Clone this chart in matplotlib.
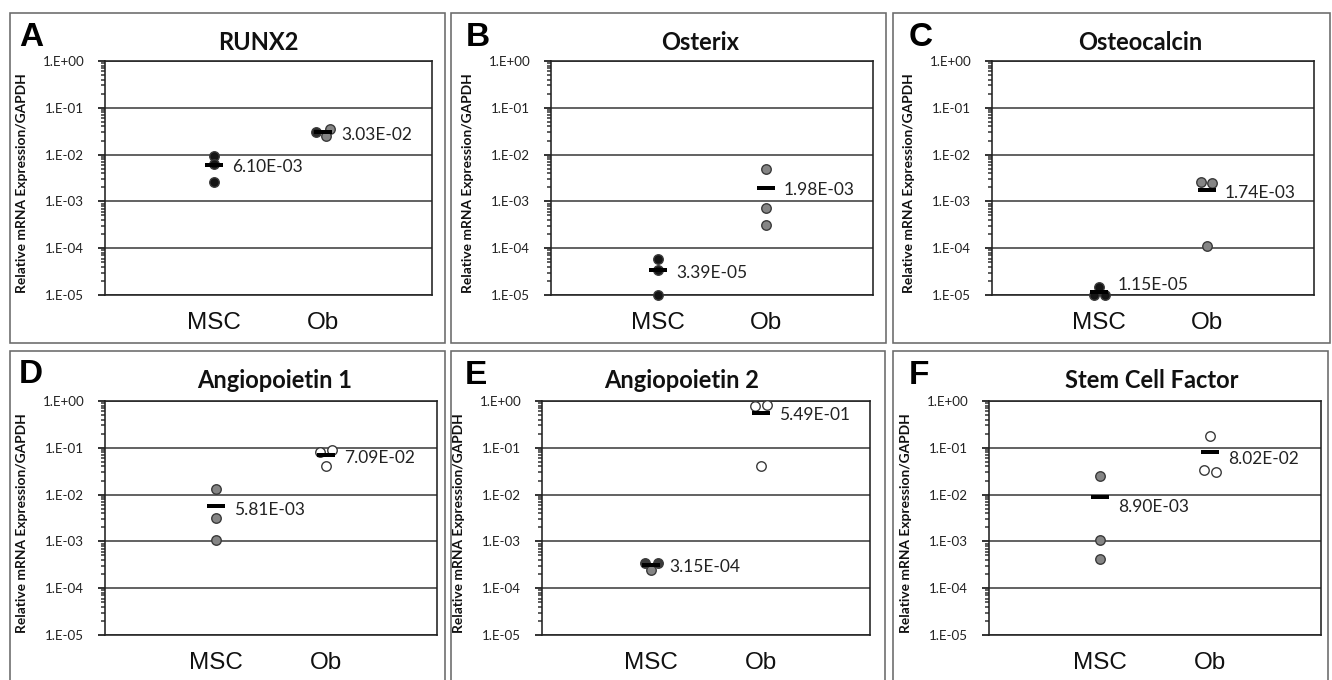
import matplotlib
matplotlib.use('Agg')
import matplotlib.pyplot as plt
from matplotlib.patches import Rectangle
from matplotlib.ticker import FixedLocator, LogLocator, NullFormatter

# ---------------- data ----------------
letters = ['A', 'B', 'C', 'D', 'E', 'F']
titles = ['RUNX2', 'Osterix', 'Osteocalcin', 'Angiopoietin 1', 'Angiopoietin 2', 'Stem Cell Factor']
categories = ['MSC', 'Ob']
ytick_vals = [1e-5, 1e-4, 1e-3, 1e-2, 1e-1, 1e0]
ytick_labels = ['1.E-05', '1.E-04', '1.E-03', '1.E-02', '1.E-01', '1.E+00']
ylabel = 'Relative mRNA Expression/GAPDH'

runx2_msc = [9.5e-3, 6.2e-3, 2.6e-3]
runx2_ob = [3.1e-2, 3.5e-2, 2.5e-2]
osterix_msc = [5.8e-5, 3.37e-5, 1.0e-5]
osterix_ob = [4.9e-3, 7.1e-4, 3.1e-4]
osteocalcin_msc = [1.45e-5, 1.0e-5, 1.0e-5]
osteocalcin_ob = [2.6e-3, 2.5e-3, 1.1e-4]
ang1_msc = [1.33e-2, 3.1e-3, 1.05e-3]
ang1_ob = [8.2e-2, 9.0e-2, 4.07e-2]
ang2_msc = [3.5e-4, 3.5e-4, 2.45e-4]
ang2_ob = [8.0e-1, 8.06e-1, 4.1e-2]
scf_msc = [2.52e-2, 1.05e-3, 4.3e-4]
scf_ob = [1.77e-1, 3.36e-2, 2.99e-2]

means_msc = [6.10e-3, 3.39e-5, 1.15e-5, 5.81e-3, 3.15e-4, 8.90e-3]
means_ob = [3.03e-2, 1.98e-3, 1.74e-3, 7.09e-2, 5.49e-1, 8.02e-2]

msc_series = [runx2_msc, osterix_msc, osteocalcin_msc, ang1_msc, ang2_msc, scf_msc]
ob_series = [runx2_ob, osterix_ob, osteocalcin_ob, ang1_ob, ang2_ob, scf_ob]

# ---------------- style / layout ----------------
BLACK = '#151515'
GRAY = '#858585'
WHITE = '#ffffff'
msc_colors = [[BLACK] * 3, [BLACK] * 3, [BLACK] * 3, [GRAY] * 3,
              ['#3a3a3a', '#3a3a3a', GRAY], [GRAY] * 3]
ob_colors = [['#2a2a2a', GRAY, GRAY], [GRAY] * 3, [GRAY] * 3,
             [WHITE] * 3, [WHITE] * 3, [WHITE] * 3]
msc_jitter = [[0, 0, 0], [0, 0, 0], [0, -0.05, 0.05], [0, 0, 0], [-0.06, 0.06, 0], [0, 0, 0]]
ob_jitter = [[-0.06, 0.06, 0.03], [0, 0, 0], [-0.05, 0.05, 0], [-0.055, 0.055, 0],
             [-0.055, 0.055, 0], [0, -0.055, 0.055]]
label_dy_px = [[-2, -3], [-3, -2], [7, -3], [-4, -3], [-2, -2], [-10, -7]]

W, H = 1332, 680
axes_px = [(105, 61, 432, 295), (551, 61, 873, 295), (992, 61, 1314, 295),
           (105, 401, 437, 635), (542, 401, 870, 635), (989, 401, 1321, 635)]
box_px = [(10, 13, 445, 343), (451, 13, 886, 343), (893, 13, 1330, 343),
          (10, 351, 445, 690), (451, 351, 885, 690), (893, 351, 1328, 690)]
title_px = [(258, 43), (700, 43), (1140, 43), (275, 381), (682, 380), (1152, 381)]
letter_px = [(19, 37), (466, 37), (909, 37), (19, 374), (465, 375), (909, 375)]

PT = 0.72  # points per pixel at dpi 100

fig = plt.figure(figsize=(W / 100, H / 100), dpi=100)
fig.patch.set_facecolor('white')

for i in range(6):
    # panel frame
    bx0, by0, bx1, by1 = box_px[i]
    fig.patches.append(Rectangle((bx0 / W, 1 - by1 / H), (bx1 - bx0) / W, (by1 - by0) / H,
                                 transform=fig.transFigure, fill=False,
                                 edgecolor='#6a6a6a', linewidth=1.6 * PT, zorder=0))
    l, t, r, b = axes_px[i]
    ax = fig.add_axes([l / W, 1 - b / H, (r - l) / W, (b - t) / H])
    ax.set_yscale('log')
    ax.set_ylim(1e-5, 1e0)
    ax.set_xlim(0, 3)
    ax.yaxis.set_major_locator(FixedLocator(ytick_vals))
    ax.set_yticklabels(ytick_labels, family='Lato', fontsize=9.6, color='#222222')
    ax.yaxis.set_minor_locator(LogLocator(base=10, subs=range(2, 10)))
    ax.yaxis.set_minor_formatter(NullFormatter())
    ax.tick_params(axis='y', which='major', direction='out', length=5, width=1.3,
                   color='#222222', pad=10)
    ax.tick_params(axis='y', which='minor', direction='out', length=3.2, width=1.1,
                   color='#333333')
    ax.set_xticks([1, 2])
    ax.set_xticklabels(categories, family='Liberation Sans', fontsize=17.5, color='#111111')
    ax.tick_params(axis='x', length=0, pad=12)
    for side in ['left', 'right', 'top', 'bottom']:
        ax.spines[side].set_color('#222222')
        ax.spines[side].set_linewidth(1.6 * PT)
    ax.grid(axis='y', which='major', color='#333333', linewidth=1.5 * PT)
    ax.set_axisbelow(True)
    ax.set_ylabel(ylabel, family='Lato', fontweight='bold', fontsize=9.9, color='#111111')
    ax.yaxis.set_label_coords(-77 / (r - l), 0.48)

    for k, (vals, cols, jit, mean) in enumerate([
            (msc_series[i], msc_colors[i], msc_jitter[i], means_msc[i]),
            (ob_series[i], ob_colors[i], ob_jitter[i], means_ob[i])]):
        xc = k + 1
        for v, c, j in zip(vals, cols, jit):
            ax.plot([xc + j], [v], marker='o', linestyle='none', markersize=9.5 * PT,
                    markerfacecolor=c, markeredgecolor='#3a3a3a', markeredgewidth=1.0,
                    clip_on=False, zorder=3)
        ax.plot([xc], [mean], marker='_', linestyle='none', markersize=17.5 * PT,
                markeredgewidth=4 * PT, color='#000000', clip_on=False, zorder=4)
        ax.annotate(f'{mean:.2E}', xy=(xc, mean), xytext=(18 * PT, label_dy_px[i][k] * PT),
                    textcoords='offset points', ha='left', va='center',
                    family='Lato', fontsize=12.5, color='#222222', zorder=5,
                    annotation_clip=False)

    tx, ty = title_px[i]
    fig.text(tx / W, 1 - ty / H, titles[i], ha='center', va='center',
             family='Lato', fontweight='bold', fontsize=17, color='#111111')
    lx, ly = letter_px[i]
    fig.text(lx / W, 1 - ly / H, letters[i], ha='left', va='center',
             family='Liberation Sans', fontweight='bold', fontsize=24, color='#000000')

fig.savefig('out.png', dpi=100, facecolor='white')
